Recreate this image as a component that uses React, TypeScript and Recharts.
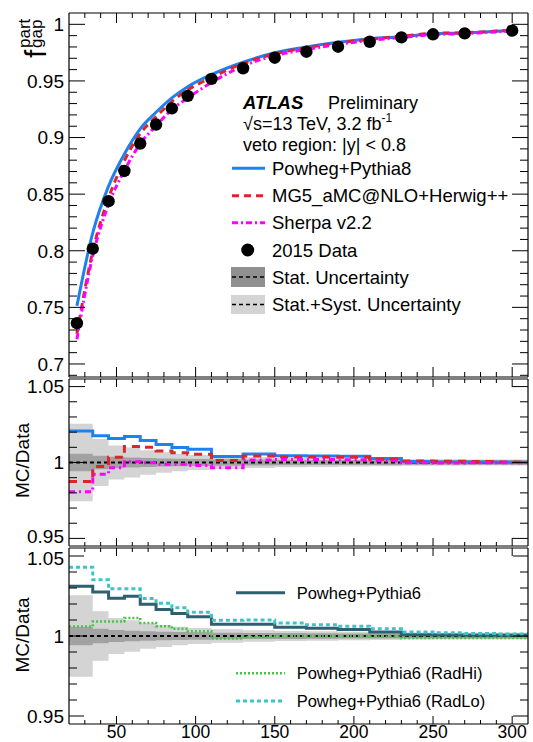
import React from 'react';
import { ComposedChart, Line, Area, XAxis, YAxis, ReferenceLine, Customized } from 'recharts';

const FONT = '"Liberation Sans", Arial, Helvetica, sans-serif';

// Jet-veto thresholds Q0 [GeV] at which the gap fraction is measured
const q0Points = [25, 35, 45, 55, 65, 75, 85, 95, 110, 130, 150, 170, 190, 210, 230, 250, 270, 300];
// Histogram bin edges of the MC/Data ratio panels
const ratioBinEdges = [20, 35, 45, 55, 65, 75, 85, 95, 110, 130, 150, 170, 190, 210, 230, 250, 270, 290, 310];

// Particle-level gap fraction f_gap
const data2015 = [0.736, 0.8018, 0.8438, 0.8705, 0.8947, 0.9115, 0.9258, 0.9368, 0.9518, 0.9612, 0.9705, 0.9758, 0.9802, 0.9846, 0.9885, 0.9912, 0.992, 0.9944];
const powhegPythia8 = [0.7513, 0.8158, 0.8571, 0.8855, 0.9077, 0.9223, 0.935, 0.9449, 0.9556, 0.9665, 0.9749, 0.98, 0.9841, 0.9873, 0.9891, 0.9916, 0.9923, 0.9946];
const mg5Herwig = [0.7268, 0.7996, 0.8467, 0.8796, 0.9035, 0.9183, 0.9318, 0.942, 0.953, 0.9653, 0.974, 0.9793, 0.9836, 0.9868, 0.9895, 0.992, 0.9926, 0.9948];
const sherpa22 = [0.7219, 0.7955, 0.8409, 0.8709, 0.8945, 0.9104, 0.9247, 0.9349, 0.9486, 0.9631, 0.9724, 0.9778, 0.9822, 0.9858, 0.9883, 0.9909, 0.9918, 0.9942];

// MC/Data ratios, one value per ratio bin
const ratioPowhegPythia8 = [1.0208, 1.0176, 1.0158, 1.0172, 1.0145, 1.0118, 1.0099, 1.0087, 1.004, 1.0056, 1.0045, 1.0043, 1.0041, 1.0027, 1.0006, 1.0004, 1.0003, 1.0002];
const ratioMg5Herwig = [0.9875, 0.9973, 1.0034, 1.0106, 1.01, 1.0076, 1.0065, 1.0054, 1.0013, 1.0043, 1.0036, 1.0036, 1.0035, 1.0022, 1.001, 1.0008, 1.0006, 1.0004];
const ratioSherpa22 = [0.9808, 0.9922, 0.9966, 1.0005, 0.9998, 0.9988, 0.9988, 0.998, 0.9966, 1.0016, 1.002, 1.002, 1.0018, 1.0012, 0.9998, 0.9997, 0.9998, 0.9998];
const ratioPowhegPythia6 = [1.0311, 1.0275, 1.0236, 1.0248, 1.0199, 1.0166, 1.0141, 1.012, 1.0074, 1.0074, 1.0054, 1.0048, 1.004, 1.0025, 1.0008, 1.0006, 1.0005, 1.0004];
const ratioRadLo = [1.043, 1.0352, 1.0295, 1.0295, 1.0234, 1.0205, 1.0176, 1.0148, 1.0098, 1.01, 1.0082, 1.0071, 1.0061, 1.0045, 1.0025, 1.002, 1.0016, 1.0013];
const ratioRadHi = [1.0059, 1.009, 1.009, 1.0113, 1.0082, 1.0061, 1.0045, 1.0029, 0.9985, 0.9994, 0.9998, 0.9998, 0.9998, 0.9997, 0.9988, 0.9988, 0.9988, 0.9988];

// Relative uncertainties of the data (half widths of the bands)
const statUnc = [0.0058, 0.0045, 0.0038, 0.0033, 0.003, 0.0027, 0.0025, 0.0023, 0.0021, 0.0019, 0.0018, 0.0017, 0.0016, 0.0016, 0.0015, 0.0015, 0.0015, 0.0015];
const totalUnc = [0.0255, 0.0155, 0.0112, 0.0098, 0.008, 0.0068, 0.0058, 0.005, 0.0042, 0.0036, 0.0032, 0.0029, 0.0027, 0.0025, 0.0022, 0.0021, 0.002, 0.002];

// Axis ticks
const xMajorTicks = [50, 100, 150, 200, 250, 300];
const xAllTicks = Array.from({ length: 28 }, (_, i) => 30 + i * 10);
const topYMajor = [0.7, 0.75, 0.8, 0.85, 0.9, 0.95, 1];
const topYAll = Array.from({ length: 32 }, (_, i) => Math.round((0.69 + i * 0.01) * 1000) / 1000);
const ratioYMajor = [0.95, 1, 1.05];
const ratioYAll = Array.from({ length: 11 }, (_, i) => Math.round((0.95 + i * 0.01) * 1000) / 1000);

const X_DOMAIN: [number, number] = [20, 310];
const TOP_Y_DOMAIN: [number, number] = [0.6885, 1.01];
const RATIO_Y_DOMAIN: [number, number] = [0.945, 1.055];

const C_PY8 = '#1f80f0';
const C_MG5 = '#d8262b';
const C_SHERPA = '#ff00ff';
const C_PY6 = '#2f6070';
const C_RADHI = '#48c448';
const C_RADLO = '#3cc4c8';
const C_STAT = '#a2a2a2';
const C_TOTAL = '#d4d4d4';

const topRows = q0Points.map((q, i) => ({
  q,
  data: data2015[i],
  py8: powhegPythia8[i],
  mg5: mg5Herwig[i],
  sherpa: sherpa22[i],
}));

const nBins = ratioBinEdges.length - 1;
const ratioRows = ratioBinEdges.map((edge, i) => {
  const k = Math.min(i, nBins - 1);
  return {
    q: edge,
    total: [1 - totalUnc[k], 1 + totalUnc[k]],
    stat: [1 - statUnc[k], 1 + statUnc[k]],
    py8: ratioPowhegPythia8[k],
    mg5: ratioMg5Herwig[k],
    sherpa: ratioSherpa22[k],
    py6: ratioPowhegPythia6[k],
    radLo: ratioRadLo[k],
    radHi: ratioRadHi[k],
  };
});

type Side = 'bottom' | 'top' | 'left' | 'right';

// Inward-pointing ticks on all four frame sides, longer at labelled values
function makeTick(
  side: Side,
  majors: number[],
  majorLen: number,
  minorLen: number,
  showLabels: boolean,
  nudge: Record<string, number> = {}
) {
  return function TickMark(props: any) {
    const { x, y, payload } = props;
    const v: number = payload.value;
    const major = majors.some((m) => Math.abs(m - v) < 1e-7);
    const len = major ? majorLen : minorLen;
    const dx = side === 'left' ? len : side === 'right' ? -len : 0;
    const dy = side === 'bottom' ? -len : side === 'top' ? len : 0;
    const shift = nudge[String(v)] || 0;
    return (
      <g>
        <line x1={x} y1={y} x2={x + dx} y2={y + dy} stroke="#000" strokeWidth={1} />
        {showLabels && major && side === 'left' && (
          <text x={x - 5} y={y + 6.8 + shift} textAnchor="end" fontFamily={FONT} fontSize={19} fill="#000">
            {String(v)}
          </text>
        )}
        {showLabels && major && side === 'bottom' && (
          <text x={x} y={y + 14} textAnchor="middle" fontFamily={FONT} fontSize={17.5} fill="#000">
            {String(v)}
          </text>
        )}
      </g>
    );
  };
}

function frameAxes(o: {
  yDomain: [number, number];
  yTicks: number[];
  yMajor: number[];
  xMajorLen: number;
  xMinorLen: number;
  yMajorLen: number;
  yMinorLen: number;
  xLabels: boolean;
  yNudge?: Record<string, number>;
}) {
  const axisLine = { stroke: '#000', strokeWidth: 1.2 };
  return [
    <XAxis
      key="xb"
      xAxisId="x"
      dataKey="q"
      type="number"
      domain={X_DOMAIN}
      allowDataOverflow
      ticks={xAllTicks}
      interval={0}
      height={1}
      tickSize={0}
      tickMargin={0}
      axisLine={axisLine}
      tickLine={false}
      tick={makeTick('bottom', xMajorTicks, o.xMajorLen, o.xMinorLen, o.xLabels)}
    />,
    <XAxis
      key="xt"
      xAxisId="xt"
      orientation="top"
      dataKey="q"
      type="number"
      domain={X_DOMAIN}
      allowDataOverflow
      ticks={xAllTicks}
      interval={0}
      height={1}
      tickSize={0}
      tickMargin={0}
      axisLine={axisLine}
      tickLine={false}
      tick={makeTick('top', xMajorTicks, o.xMajorLen, o.xMinorLen, false)}
    />,
    <YAxis
      key="yl"
      yAxisId="y"
      type="number"
      domain={o.yDomain}
      allowDataOverflow
      ticks={o.yTicks}
      interval={0}
      width={1}
      tickSize={0}
      tickMargin={0}
      axisLine={axisLine}
      tickLine={false}
      tick={makeTick('left', o.yMajor, o.yMajorLen, o.yMinorLen, true, o.yNudge)}
    />,
    <YAxis
      key="yr"
      yAxisId="yr"
      orientation="right"
      type="number"
      domain={o.yDomain}
      allowDataOverflow
      ticks={o.yTicks}
      interval={0}
      width={1}
      tickSize={0}
      tickMargin={0}
      axisLine={axisLine}
      tickLine={false}
      tick={makeTick('right', o.yMajor, o.yMajorLen, o.yMinorLen, false)}
    />,
  ];
}

function DataDot(props: any) {
  const { cx, cy } = props;
  if (cx == null || cy == null) return null;
  return <circle cx={cx} cy={cy} r={6.2} fill="#000" />;
}

function TopTitle() {
  return (
    <g fontFamily={FONT} fill="#000" transform="translate(46,58) rotate(-90)">
      <text x={0} y={0} fontSize={30}>f</text>
      <text x={10} y={-16} fontSize={17}>part</text>
      <text x={10} y={-4} fontSize={17}>gap</text>
    </g>
  );
}

function TopLegend() {
  const tx = 272;
  const fs = 18.5;
  return (
    <g fontFamily={FONT} fill="#000">
      <text x={243} y={108.5} fontSize={18.5} fontWeight="bold" fontStyle="italic">ATLAS</text>
      <text x={328} y={108.5} fontSize={18}>Preliminary</text>
      <text x={243} y={130} fontSize={18}>
        √s=13 TeV, 3.2 fb<tspan fontSize={12} dy={-8}>-1</tspan>
      </text>
      <text x={243} y={150.5} fontSize={18}>veto region: |y| &lt; 0.8</text>

      <line x1={232} x2={265} y1={168.3} y2={168.3} stroke={C_PY8} strokeWidth={3} />
      <text x={tx} y={174.5} fontSize={fs}>Powheg+Pythia8</text>

      <line x1={232} x2={265} y1={195.7} y2={195.7} stroke={C_MG5} strokeWidth={3} strokeDasharray="7 5" />
      <text x={tx} y={202} fontSize={fs}>MG5_aMC@NLO+Herwig++</text>

      <line x1={232} x2={265} y1={222.7} y2={222.7} stroke={C_SHERPA} strokeWidth={3} strokeDasharray="6 3 2 3" />
      <text x={tx} y={229} fontSize={fs}>Sherpa v2.2</text>

      <circle cx={247.7} cy={250} r={6.5} fill="#000" />
      <text x={tx} y={256.5} fontSize={fs}>2015 Data</text>

      <rect x={231} y={267} width={34} height={20} fill="#909090" />
      <line x1={232} x2={265} y1={277} y2={277} stroke="#000" strokeWidth={1.5} strokeDasharray="4 3" />
      <text x={tx} y={283.5} fontSize={fs}>Stat. Uncertainty</text>

      <rect x={231} y={295} width={34} height={19} fill={C_TOTAL} />
      <line x1={232} x2={265} y1={304.5} y2={304.5} stroke="#000" strokeWidth={1.5} strokeDasharray="4 3" />
      <text x={tx} y={310.5} fontSize={fs}>Stat.+Syst. Uncertainty</text>
    </g>
  );
}

function RatioTitle({ cy }: { cy: number }) {
  return (
    <text
      transform={`translate(29,${cy}) rotate(-90)`}
      textAnchor="middle"
      fontFamily={FONT}
      fontSize={19}
      fill="#000"
    >
      MC/Data
    </text>
  );
}

function BottomLegend() {
  const tx = 296.7;
  const fs = 16.5;
  return (
    <g fontFamily={FONT} fill="#000">
      <line x1={236} x2={285} y1={45.7} y2={45.7} stroke={C_PY6} strokeWidth={3} />
      <text x={tx} y={51.5} fontSize={fs}>Powheg+Pythia6</text>
      <line x1={236} x2={285} y1={126.3} y2={126.3} stroke={C_RADHI} strokeWidth={2.5} strokeDasharray="2 2" />
      <text x={tx} y={132} fontSize={fs}>Powheg+Pythia6 (RadHi)</text>
      <line x1={236} x2={285} y1={154} y2={154} stroke={C_RADLO} strokeWidth={3} strokeDasharray="4 3" />
      <text x={tx} y={160} fontSize={fs}>Powheg+Pythia6 (RadLo)</text>
    </g>
  );
}

const ids = { xAxisId: 'x', yAxisId: 'y' };

export default function App() {
  return (
    <div style={{ position: 'absolute', left: 0, top: 0, width: 533, height: 742, overflow: 'hidden', background: '#fff' }}>
      <style>{'svg.recharts-surface { overflow: visible; }'}</style>
      {/* Gap fraction vs Q0 */}
      <div style={{ position: 'absolute', left: 0, top: 0 }}>
        <ComposedChart width={533} height={379} data={topRows} margin={{ top: 12, right: 4, bottom: 1, left: 68 }}>
          {frameAxes({
            yDomain: TOP_Y_DOMAIN,
            yTicks: topYAll,
            yMajor: topYMajor,
            xMajorLen: 10,
            xMinorLen: 5,
            yMajorLen: 16,
            yMinorLen: 8,
            xLabels: false,
          })}
          <Line xAxisId="xt" yAxisId="yr" dataKey="data" stroke="none" dot={false} activeDot={false} isAnimationActive={false} />
          <Line {...ids} dataKey="data" stroke="none" dot={<DataDot />} activeDot={false} isAnimationActive={false} />
          <Line {...ids} type="monotone" dataKey="py8" stroke={C_PY8} strokeWidth={3} dot={false} activeDot={false} isAnimationActive={false} />
          <Line {...ids} type="monotone" dataKey="mg5" stroke={C_MG5} strokeWidth={3} strokeDasharray="7 5" dot={false} activeDot={false} isAnimationActive={false} />
          <Line {...ids} type="monotone" dataKey="sherpa" stroke={C_SHERPA} strokeWidth={3} strokeDasharray="6 3 2 3" dot={false} activeDot={false} isAnimationActive={false} />
          <Customized component={<TopTitle />} />
          <Customized component={<TopLegend />} />
        </ComposedChart>
      </div>

      {/* Ratio to data: Powheg+Pythia8, MG5_aMC@NLO+Herwig++, Sherpa */}
      <div style={{ position: 'absolute', left: 0, top: 378 }}>
        <ComposedChart width={533} height={169} data={ratioRows} margin={{ top: 0, right: 4, bottom: 0, left: 68 }}>
          {frameAxes({
            yDomain: RATIO_Y_DOMAIN,
            yTicks: ratioYAll,
            yMajor: ratioYMajor,
            xMajorLen: 8,
            xMinorLen: 4,
            yMajorLen: 16,
            yMinorLen: 8,
            xLabels: false,
            yNudge: { '0.95': -2.5 },
          })}
          <Area {...ids} type="stepAfter" dataKey="total" fill={C_TOTAL} fillOpacity={1} stroke="none" isAnimationActive={false} activeDot={false} />
          <Area {...ids} type="stepAfter" dataKey="stat" fill={C_STAT} fillOpacity={1} stroke="none" isAnimationActive={false} activeDot={false} />
          <Line xAxisId="xt" yAxisId="yr" dataKey="py8" stroke="none" dot={false} activeDot={false} isAnimationActive={false} />
          <ReferenceLine {...ids} y={1} stroke="#000" strokeWidth={2} strokeDasharray="4 3" />
          <Line {...ids} type="stepAfter" dataKey="py8" stroke={C_PY8} strokeWidth={3} dot={false} activeDot={false} isAnimationActive={false} />
          <Line {...ids} type="stepAfter" dataKey="mg5" stroke={C_MG5} strokeWidth={3} strokeDasharray="8 6" dot={false} activeDot={false} isAnimationActive={false} />
          <Line {...ids} type="stepAfter" dataKey="sherpa" stroke={C_SHERPA} strokeWidth={3} strokeDasharray="6 4 2 4" dot={false} activeDot={false} isAnimationActive={false} />
          <Customized component={<RatioTitle cy={82.5} />} />
        </ComposedChart>
      </div>

      {/* Ratio to data: Powheg+Pythia6 and its radiation variations */}
      <div style={{ position: 'absolute', left: 0, top: 547 }}>
        <ComposedChart width={533} height={195} data={ratioRows} margin={{ top: 0, right: 4, bottom: 17, left: 68 }}>
          {frameAxes({
            yDomain: RATIO_Y_DOMAIN,
            yTicks: ratioYAll,
            yMajor: ratioYMajor,
            xMajorLen: 8,
            xMinorLen: 4,
            yMajorLen: 15,
            yMinorLen: 8,
            xLabels: true,
            yNudge: { '1.05': 2.5 },
          })}
          <Area {...ids} type="stepAfter" dataKey="total" fill={C_TOTAL} fillOpacity={1} stroke="none" isAnimationActive={false} activeDot={false} />
          <Area {...ids} type="stepAfter" dataKey="stat" fill={C_STAT} fillOpacity={1} stroke="none" isAnimationActive={false} activeDot={false} />
          <Line xAxisId="xt" yAxisId="yr" dataKey="py6" stroke="none" dot={false} activeDot={false} isAnimationActive={false} />
          <ReferenceLine {...ids} y={1} stroke="#000" strokeWidth={2} strokeDasharray="4 3" />
          <Line {...ids} type="stepAfter" dataKey="radHi" stroke={C_RADHI} strokeWidth={2.5} strokeDasharray="2 2" dot={false} activeDot={false} isAnimationActive={false} />
          <Line {...ids} type="stepAfter" dataKey="py6" stroke={C_PY6} strokeWidth={3} dot={false} activeDot={false} isAnimationActive={false} />
          <Line {...ids} type="stepAfter" dataKey="radLo" stroke={C_RADLO} strokeWidth={3} strokeDasharray="4 3" dot={false} activeDot={false} isAnimationActive={false} />
          <Customized component={<RatioTitle cy={88} />} />
          <Customized component={<BottomLegend />} />
        </ComposedChart>
      </div>
    </div>
  );
}
